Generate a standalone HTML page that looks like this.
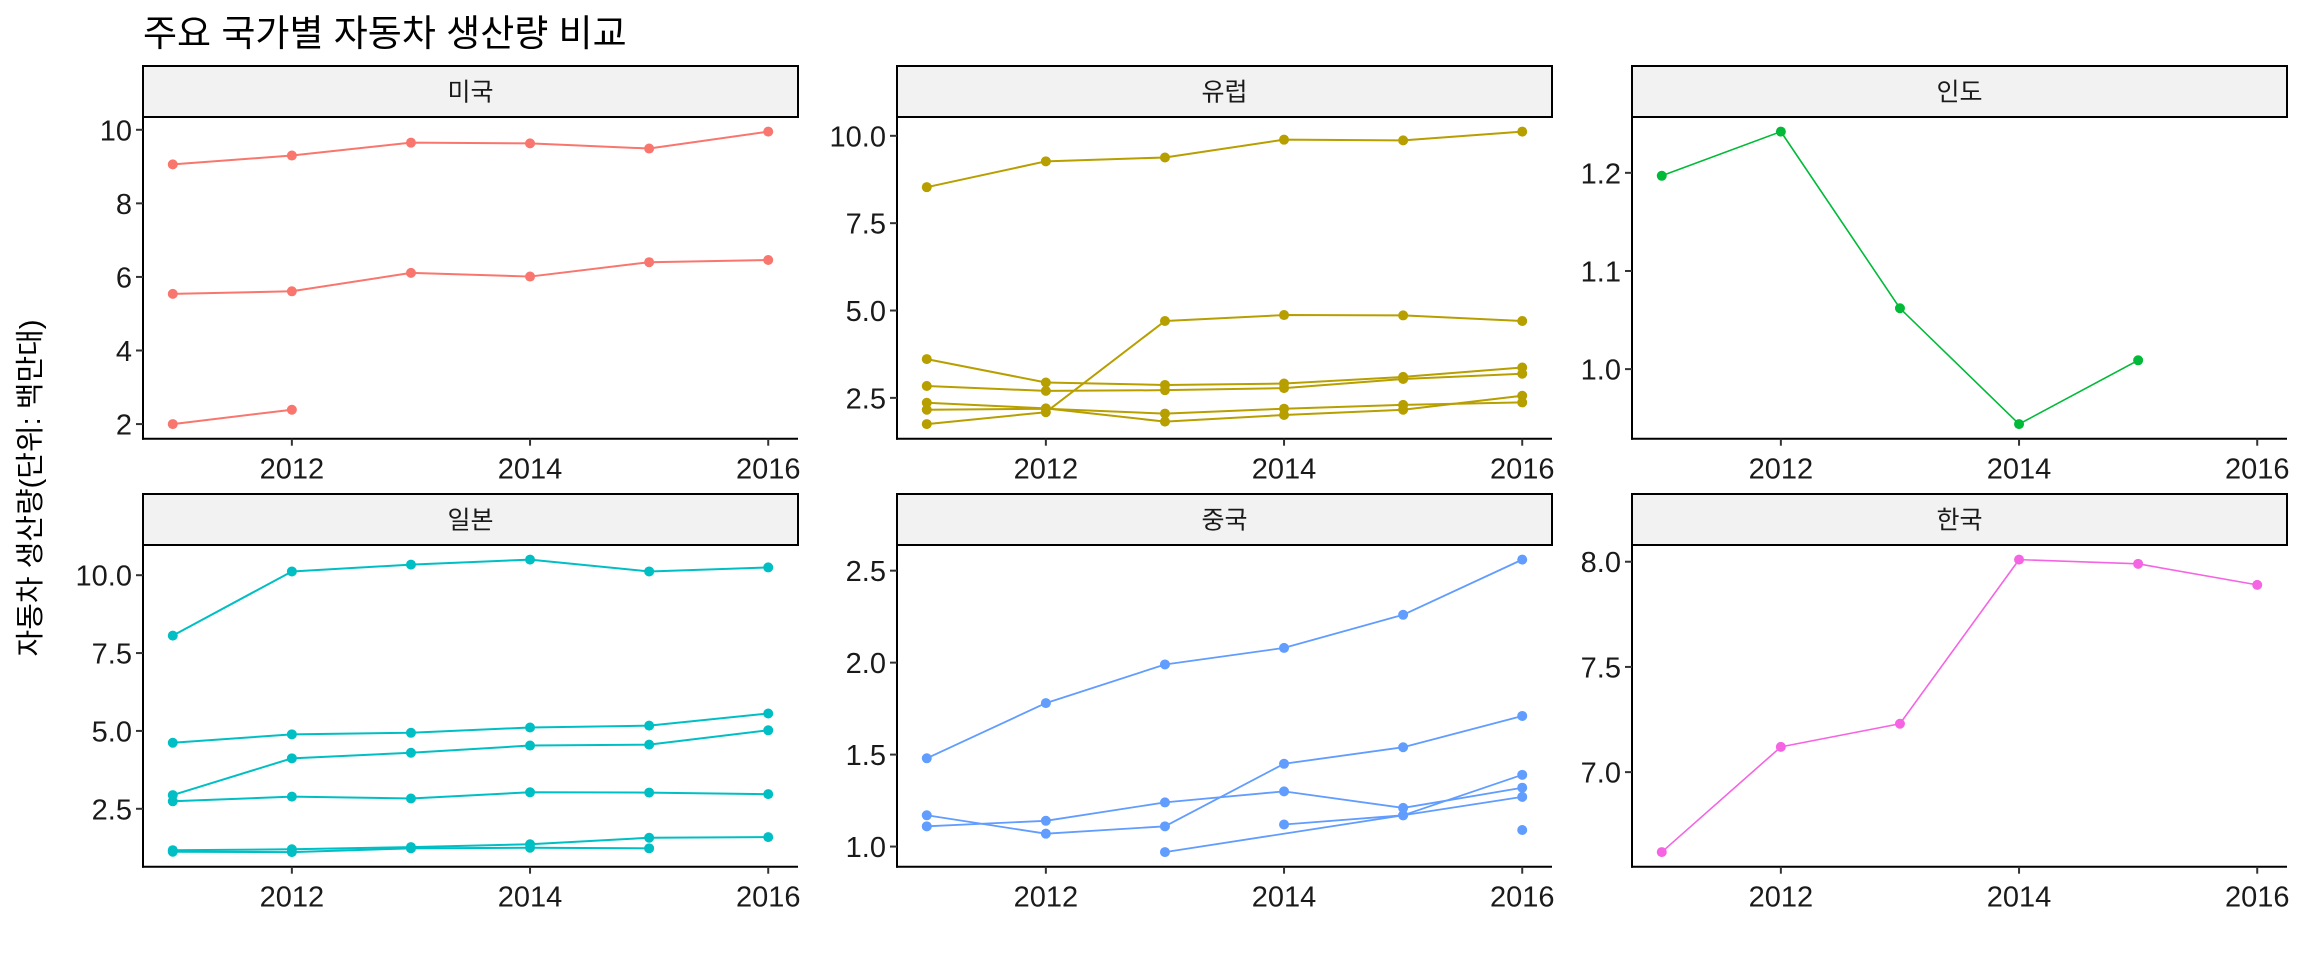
<!DOCTYPE html>
<html><head><meta charset="utf-8">
<style>
html,body{margin:0;padding:0;background:#fff;}
svg text{font-family:"Liberation Sans","Noto Sans CJK KR",sans-serif;}
</style></head>
<body>
<svg id="chart" width="2304" height="960" viewBox="0 0 2304 960" xmlns="http://www.w3.org/2000/svg">
<rect width="2304" height="960" fill="#fff"/>
<text x="143" y="46" font-size="37" fill="#000">주요 국가별 자동차 생산량 비교</text>
<text transform="translate(40,488) rotate(-90)" text-anchor="middle" font-size="29" fill="#000">자동차 생산량(단위: 백만대)</text>
</svg>
<script>
const years = [2011, 2012, 2013, 2014, 2015, 2016];
const xTicks = [2012, 2014, 2016];
const panelNames = ["미국", "유럽", "인도", "일본", "중국", "한국"];
const panelColors = ["#F8766D", "#B79F00", "#00BA38", "#00BFC4", "#619CFF", "#F564E3"];
const usaSeries = [
  [9.06, 9.30, 9.65, 9.63, 9.49, 9.95],
  [5.54, 5.61, 6.11, 6.01, 6.40, 6.46],
  [2.00, 2.39, null, null, null, null]
];
const europeSeries = [
  [8.53, 9.27, 9.38, 9.89, 9.87, 10.12],
  [1.75, 2.09, 4.70, 4.87, 4.86, 4.70],
  [3.61, 2.94, 2.87, 2.91, 3.10, 3.37],
  [2.84, 2.70, 2.72, 2.78, 3.04, 3.19],
  [2.36, 2.20, 1.82, 2.01, 2.16, 2.56],
  [2.16, 2.19, 2.05, 2.19, 2.30, 2.37]
];
const indiaSeries = [
  [1.197, 1.242, 1.062, 0.944, 1.009, null]
];
const japanSeries = [
  [8.06, 10.12, 10.34, 10.50, 10.12, 10.25],
  [4.62, 4.89, 4.94, 5.11, 5.17, 5.56],
  [2.94, 4.12, 4.30, 4.53, 4.56, 5.02],
  [2.74, 2.89, 2.83, 3.03, 3.02, 2.97],
  [1.17, 1.20, 1.27, 1.36, 1.57, 1.59],
  [1.12, 1.11, 1.23, 1.25, 1.23, null]
];
const chinaSeries = [
  [1.48, 1.78, 1.99, 2.08, 2.26, 2.56],
  [1.17, 1.07, 1.11, 1.45, 1.54, 1.71],
  [1.11, 1.14, 1.24, 1.30, 1.21, 1.32],
  [null, null, 0.97, null, 1.17, 1.27],
  [null, null, null, 1.12, 1.17, 1.39],
  [null, null, null, null, null, 1.09]
];
const koreaSeries = [
  [6.62, 7.12, 7.23, 8.01, 7.99, 7.89]
];
const usaTicks = ["2", "4", "6", "8", "10"];
const europeTicks = ["2.5", "5.0", "7.5", "10.0"];
const indiaTicks = ["1.0", "1.1", "1.2"];
const japanTicks = ["2.5", "5.0", "7.5", "10.0"];
const chinaTicks = ["1.0", "1.5", "2.0", "2.5"];
const koreaTicks = ["7.0", "7.5", "8.0"];

const allSeries = [usaSeries, europeSeries, indiaSeries, japanSeries, chinaSeries, koreaSeries];
const allTicks = [usaTicks, europeTicks, indiaTicks, japanTicks, chinaTicks, koreaTicks];
const lineWidths = [2, 2, 1.6, 2, 1.8, 1.6];

const NS = "http://www.w3.org/2000/svg";
const svg = document.getElementById("chart");
const colLeft = [143, 897, 1632];
const plotW = 655;
const rowTop = [117, 545];
const plotH = 321.7;
const stripH = 51;

function mk(tag, attrs, parent) {
  const e = document.createElementNS(NS, tag);
  for (const k in attrs) e.setAttribute(k, attrs[k]);
  (parent || svg).appendChild(e);
  return e;
}

allSeries.forEach((series, pi) => {
  const col = pi % 3, row = Math.floor(pi / 3);
  const L = colLeft[col], T = rowTop[row];
  const g = mk("g", {});
  
  
  const vals = [];
  series.forEach(s => s.forEach(v => { if (v !== null) vals.push(v); }));
  const mn = Math.min(...vals), mx = Math.max(...vals), ex = (mx - mn) * 0.05;
  const y0 = mn - ex, y1 = mx + ex;
  const xs = v => L + (v - 2010.75) / 5.5 * plotW;
  const ys = v => T + (y1 - v) / (y1 - y0) * plotH;

  const strip = mk("rect", {x: L, y: T - stripH, width: plotW, height: stripH, fill: "#F2F2F2", stroke: "#000", "stroke-width": 2}, g);
  
  
  const st = mk("text", {x: L + plotW / 2, y: T - stripH / 2 + 9, "text-anchor": "middle", "font-size": 25, fill: "#1a1a1a"}, g);
  st.textContent = panelNames[pi];
  
  

  series.forEach((s, si) => {
    let cur = [];
    s.forEach((v, i) => { if (v !== null) cur.push([xs(years[i]), ys(v)]); });
    if (cur.length > 1) {
      const pl = mk("polyline", {points: cur.map(p => p.join(",")).join(" "), fill: "none", stroke: panelColors[pi], "stroke-width": lineWidths[pi], "stroke-linejoin": "round"}, g);
      
      
    }
    cur.forEach(p => {
      const c = mk("circle", {cx: p[0], cy: p[1], r: 5, fill: panelColors[pi]}, g);
      
      
    });
  });

  const ya = mk("line", {x1: L, y1: T, x2: L, y2: T + plotH + 1, stroke: "#000", "stroke-width": 2}, g);
  
  
  const xa = mk("line", {x1: L - 1, y1: T + plotH, x2: L + plotW, y2: T + plotH, stroke: "#000", "stroke-width": 2}, g);
  
  

  allTicks[pi].forEach(t => {
    const y = ys(parseFloat(t));
    mk("line", {x1: L - 7, y1: y, x2: L, y2: y, stroke: "#333", "stroke-width": 2}, g);
    const tl = mk("text", {x: L - 11, y: y + 10.5, "text-anchor": "end", "font-size": 29, fill: "#1a1a1a"}, g);
    tl.textContent = t;
    
    
  });
  xTicks.forEach(t => {
    const x = xs(t);
    mk("line", {x1: x, y1: T + plotH, x2: x, y2: T + plotH + 7, stroke: "#333", "stroke-width": 2}, g);
    const tl = mk("text", {x: x, y: T + plotH + 40, "text-anchor": "middle", "font-size": 29, fill: "#1a1a1a"}, g);
    tl.textContent = String(t);
    
    
  });
});
</script>
</body></html>
